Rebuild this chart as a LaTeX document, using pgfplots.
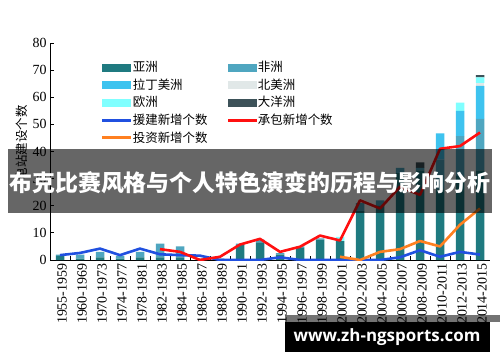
\documentclass[border=0pt]{standalone}
\usepackage{fontspec}
\setmainfont{Liberation Serif}
\newfontfamily\cjk{Noto Sans CJK SC}
\newfontfamily\osans{Open Sans}
\usepackage{pgfplots}
\usepackage{pgfplotstable}
\pgfplotsset{compat=1.18}
\definecolor{cAsia}{HTML}{1F7A80}
\definecolor{cAfrica}{HTML}{4FA6C0}
\definecolor{cLatam}{HTML}{3EC3EF}
\definecolor{cNam}{HTML}{E1E8E8}
\definecolor{cEurope}{HTML}{80FFFF}
\definecolor{cOce}{HTML}{3D5259}
\definecolor{cAid}{HTML}{2050E0}
\definecolor{cCon}{HTML}{FF1010}
\definecolor{cOrg}{HTML}{FF8020}

\pgfplotstableread{
x asia africa latam nam europe oce
0  1.5 0.5 0 0 0 0
1  0.5 1.5 0 0 0 0
2  1   2   0 0 0 0
3  0.5 1   0 0 0 0
4  1   2   0 0 0 0
5  1   5   0 0 0 0
6  1   4   0 0 0 0
7  0.5 0   0 0 0 0
8  0.5 0   0 0 0 0
9  5.5 0.5 0 0 0 0
10 6.5 1   0 0 0 0
11 2   0.5 0 0 0 0
12 4.5 0.5 0 0 0 0
13 7.5 0.5 0 0 0 0
14 7   0   0 0 1.5 0
15 18  3   0 0 0 0
16 20  2   0 0 0 0
17 32  2   0 0 0 0
18 33  1   0 0 0 2
19 26  11  9.7 0 0 0
20 31  14.7 9.3 0 3 0
21 33  19  12.2 1 2.1 0.9
}\bars

\pgfplotstableread{
x aid
0 1.8
1 2.6
2 4.2
3 1.8
4 4.2
5 2.1
6 1.8
7 1.6
8 0
9 0
10 0
11 1
12 0
13 0
14 0
15 0
16 0
17 1
18 3.6
19 1.2
20 3
21 2
}\aidtab

\pgfplotstableread{
x con
5 4
6 3
7 0
8 1.2
9 5.7
10 7.8
11 3
12 4.9
13 9
14 7.2
15 22
16 19
17 27
18 24
19 41
20 42
21 47
}\contab

\pgfplotstableread{
x inv
14 1.2
15 0
16 3
17 4
18 7
19 5
20 13
21 19
}\invtab

\begin{document}
\begin{tikzpicture}[x=1bp,y=1bp]
\fill[white] (0,0) rectangle (500,362);
\path[use as bounding box] (0,0) rectangle (500,362);
\begin{axis}[
  at={(50bp,102bp)}, anchor=south west,
  scale only axis, width=440bp, height=217bp,
  xmin=-0.5, xmax=21.5, ymin=0, ymax=80,
  axis x line*=bottom, axis y line*=left,
  axis line style={line width=0.9bp},
  ybar stacked, bar width=8.5bp,
  ytick={0,10,...,80},
  xtick={0,...,21},
  xticklabels={1955-1959,1960-1969,1970-1973,1974-1977,1978-1981,1982-1983,1984-1985,1986-1987,1988-1989,1990-1991,1992-1993,1994-1995,1996-1997,1998-1999,2000-2001,2002-2003,2004-2005,2006-2007,2008-2009,2010-2011,2012-2013,2014-2015},
  minor xtick={0.5,1.5,...,20.5},
  major x tick style={draw=none},
  tick align=inside,
  major tick length=4bp, minor tick length=4bp,
  tick style={line width=0.8bp, black},
  xticklabel style={rotate=90, anchor=east, font=\fontsize{14}{14}\selectfont, yshift=-2bp},
  yticklabel style={font=\fontsize{14}{14}\selectfont},
  /pgf/number format/assume math mode=true,
  ylabel={\cjk 电站建设个数},
  ylabel style={font=\fontsize{12.5}{12.5}\selectfont, at={(axis description cs:-0.064,0.54)}, anchor=center},
]
\addplot[fill=cAsia, draw=none] table[x=x,y=asia]{\bars};
\addplot[fill=cAfrica, draw=none] table[x=x,y=africa]{\bars};
\addplot[fill=cLatam, draw=none] table[x=x,y=latam]{\bars};
\addplot[fill=cNam, draw=none] table[x=x,y=nam]{\bars};
\addplot[fill=cEurope, draw=none] table[x=x,y=europe]{\bars};
\addplot[fill=cOce, draw=none] table[x=x,y=oce]{\bars};
\end{axis}
\begin{axis}[
  at={(50bp,102bp)}, anchor=south west,
  scale only axis, width=440bp, height=217bp,
  xmin=-0.5, xmax=21.5, ymin=0, ymax=80,
  hide axis,
  legend columns=2,
  legend cell align=left,
  legend style={draw=none, fill=none, at={(axis description cs:0.112,0.935)}, anchor=north west,
    font=\cjk\fontsize{12.5}{13}\selectfont, row sep=1.6bp,
    /tikz/every even column/.append style={column sep=18bp}},
]
\addlegendimage{legend image code/.code={\fill[cAsia] (0bp,-3.5bp) rectangle (28bp,3.5bp);}}\addlegendentry{亚洲}
\addlegendimage{legend image code/.code={\fill[cAfrica] (0bp,-3.5bp) rectangle (28bp,3.5bp);}}\addlegendentry{非洲}
\addlegendimage{legend image code/.code={\fill[cLatam] (0bp,-3.5bp) rectangle (28bp,3.5bp);}}\addlegendentry{拉丁美洲}
\addlegendimage{legend image code/.code={\fill[cNam] (0bp,-3.5bp) rectangle (28bp,3.5bp);}}\addlegendentry{北美洲}
\addlegendimage{legend image code/.code={\fill[cEurope] (0bp,-3.5bp) rectangle (28bp,3.5bp);}}\addlegendentry{欧洲}
\addlegendimage{legend image code/.code={\fill[cOce] (0bp,-3.5bp) rectangle (28bp,3.5bp);}}\addlegendentry{大洋洲}
\addlegendimage{legend image code/.code={\fill[cAid] (0bp,-0.9bp) rectangle (28bp,0.9bp);}}\addlegendentry{援建新增个数}
\addlegendimage{legend image code/.code={\fill[cCon] (0bp,-0.9bp) rectangle (28bp,0.9bp);}}\addlegendentry{承包新增个数}
\addlegendimage{legend image code/.code={\fill[cOrg] (0bp,-0.9bp) rectangle (28bp,0.9bp);}}\addlegendentry{投资新增个数}
\addplot[color=cAid, line width=2.6bp, line join=round, forget plot] table[x=x,y=aid]{\aidtab};
\addplot[color=cCon, line width=2.6bp, line join=round, forget plot] table[x=x,y=con]{\contab};
\addplot[color=cOrg, line width=2.6bp, line join=round, forget plot] table[x=x,y=inv]{\invtab};
\end{axis}
% title banner overlay
\fill[black, opacity=0.6] (8,149) rectangle (492,213);
\node[text=white, font=\cjk\bfseries\fontsize{23}{23}\selectfont, inner sep=0pt] at (250,179) {布克比赛风格与个人特色演变的历程与影响分析};
% watermark
\fill[black, opacity=0.55] (285,40) rectangle (500,47);
\fill[black] (285,10) rectangle (490,40);
\node[text=white, font=\osans\bfseries\fontsize{17}{17}\selectfont, inner sep=0pt] at (387,25) {www.zh-ngsports.com};
\end{tikzpicture}
\end{document}
